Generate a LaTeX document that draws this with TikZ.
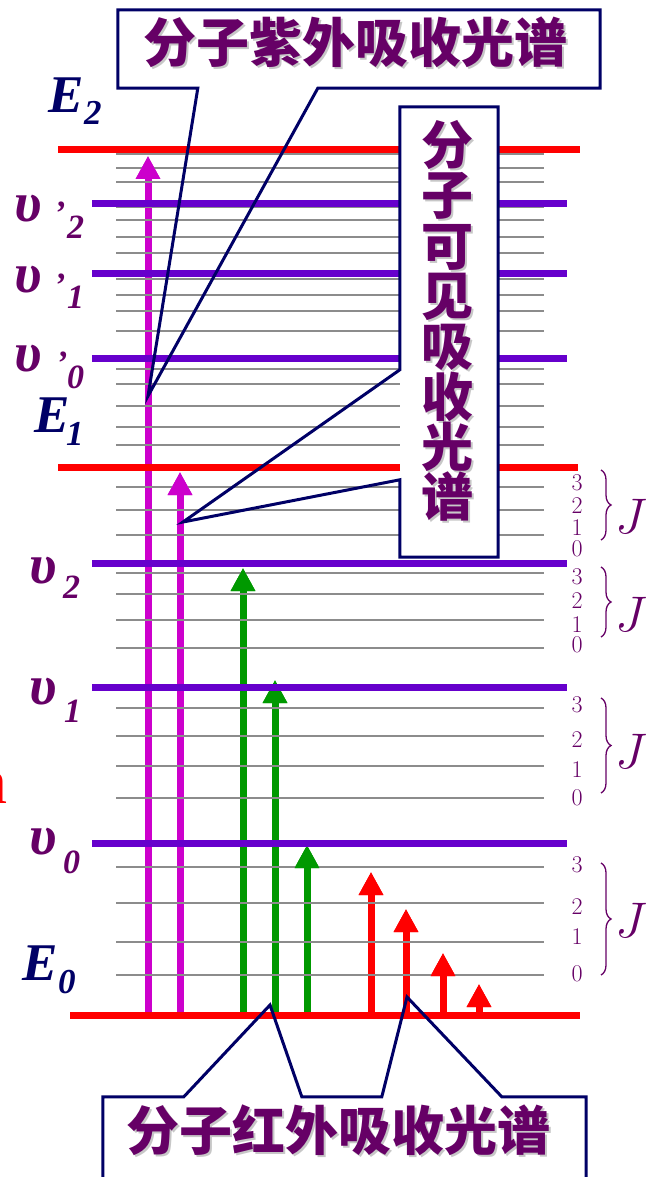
\RequirePackage{fix-cm}
\documentclass[tikz,border=0pt]{standalone}
\usepackage{fontspec}
\newfontfamily\cjk{Noto Sans CJK SC}
\newfontfamily\tnr{Liberation Serif}
\usetikzlibrary{arrows.meta,decorations.pathreplacing,calc}
\definecolor{lvred}{HTML}{FF0000}
\definecolor{lviolet}{HTML}{6600CC}
\definecolor{lgray}{HTML}{8C8C8C}
\definecolor{amag}{HTML}{CC00CC}
\definecolor{agreen}{HTML}{009900}
\definecolor{navy}{HTML}{000066}
\definecolor{tpurple}{HTML}{660066}
\newcommand\cjkfont{\cjk\bfseries\fontsize{53}{57}\selectfont}
\newcommand\cjkvfont{\cjk\bfseries\fontsize{52}{50.3}\selectfont}
\newcommand\ebig{\tnr\bfseries\itshape\fontsize{53}{53}\selectfont}
\newcommand\esub{\tnr\bfseries\itshape\fontsize{35}{35}\selectfont}
\newcommand\ubig{\tnr\bfseries\itshape\fontsize{56}{56}\selectfont}
\newcommand\usub{\tnr\bfseries\itshape\fontsize{34}{34}\selectfont}
\newcommand\jdig{\fontsize{24}{24}\selectfont}
\newcommand\jbig{\fontsize{50}{50}\selectfont}
\begin{document}
\begin{tikzpicture}[x=1pt,y=-1pt,
  elevel/.style={lvred,line width=7pt},
  vlevel/.style={lviolet,line width=7pt},
  rlevel/.style={lgray,line width=2pt},
  shaft/.style={line width=7pt,-{Triangle[width=23pt,length=23pt]}},
  cbox/.style={fill=white,draw=none,inner sep=0pt},
  cline/.style={navy,line width=3pt,line join=miter},
  cjktext/.style={text=tpurple,inner sep=0pt,font=\cjkfont},
  cjkshadow/.style={text=black!22,inner sep=0pt,font=\cjkfont},
  elab/.style={text=navy,inner sep=0pt,anchor=base west},
  ulab/.style={text=tpurple,inner sep=0pt,anchor=base west},
  jnum/.style={text=tpurple,inner sep=0pt,font=\jdig},
  jlet/.style={text=tpurple,inner sep=0pt,anchor=west,font=\jbig},
  jbrace/.style={tpurple,line width=1.3pt,decorate,decoration={brace,amplitude=10pt}}
]
\useasboundingbox (0,0) rectangle (648,1177);
\fill[white] (0,0) rectangle (648,1177);

% arrow coordinates
\coordinate (a1s) at (148,1012); \coordinate (a1t) at (148,156);
\coordinate (a2s) at (180,1012); \coordinate (a2t) at (180,472);
\coordinate (g1s) at (243,1012); \coordinate (g1t) at (243,568);
\coordinate (g2s) at (275,1012); \coordinate (g2t) at (275,680);
\coordinate (g3s) at (307,1012); \coordinate (g3t) at (307,845);
\coordinate (r1s) at (371,1012); \coordinate (r1t) at (371,872);
\coordinate (r2s) at (406,1012); \coordinate (r2t) at (406,909);
\coordinate (r3s) at (443,1012); \coordinate (r3t) at (443,953);
\coordinate (r4s) at (479,1012); \coordinate (r4t) at (479,984);

% arrows (first pass)
\foreach \s/\t/\c in {a1s/a1t/amag,a2s/a2t/amag,g1s/g1t/agreen,g2s/g2t/agreen,g3s/g3t/agreen,r1s/r1t/lvred,r2s/r2t/lvred,r3s/r3t/lvred,r4s/r4t/lvred}
  \draw[shaft,\c] (\s) -- (\t);

% rotational levels
\foreach \y in {154,168,182,207,220,237,253,279,295,311,331,369,384,406,427,445,487,510,535,573,594,620,648,708,736,766,798,867,903,942,975}
  \draw[rlevel] (116,\y) -- (544,\y);

% arrow heads on top of rotational levels
\foreach \t/\c in {a1t/amag,a2t/amag,g1t/agreen,g2t/agreen,g3t/agreen,r1t/lvred,r2t/lvred,r3t/lvred,r4t/lvred}
  \draw[shaft,\c] ($(\t)+(0,25)$) -- (\t);

% vibrational levels
\foreach \y in {203,273,358,563,687,843}
  \draw[vlevel] (92,\y) -- (567,\y);

% electronic levels
\draw[elevel] (58,150) -- (580,150);
\draw[elevel] (58,467) -- (578,467);
\draw[elevel] (70,1015) -- (580,1015);

% left labels
\node[elab,font=\ebig] (E2) at (48,113) {E};
\node[elab,font=\esub] (E2s) at (84,125) {2};
\node[elab,font=\ebig] (E1) at (34,432) {E};
\node[elab,font=\esub] (E1s) at (66,445) {1};
\node[elab,font=\ebig] (E0) at (22,980) {E};
\node[elab,font=\esub] (E0s) at (58,993) {0};

\node[ulab,font=\ubig] (vp2) at (14,221) {υ};
\node[ulab,font=\usub] (vp2p) at (54,224) {’};
\node[ulab,font=\usub] (vp2s) at (67,238) {2};
\node[ulab,font=\ubig] (vp1) at (14,292) {υ};
\node[ulab,font=\usub] (vp1p) at (54,296) {’};
\node[ulab,font=\usub] (vp1s) at (67,308) {1};
\node[ulab,font=\ubig] (vp0) at (14,371) {υ};
\node[ulab,font=\usub] (vp0p) at (56,374) {’};
\node[ulab,font=\usub] (vp0s) at (67,388) {0};
\node[ulab,font=\ubig] (v2) at (29,583) {υ};
\node[ulab,font=\usub] (v2s) at (63,598) {2};
\node[ulab,font=\ubig] (v1) at (29,704) {υ};
\node[ulab,font=\usub] (v1s) at (64,722) {1};
\node[ulab,font=\ubig] (v0) at (29,854) {υ};
\node[ulab,font=\usub] (v0s) at (63,873) {0};

% partial red letter at the left edge
\node[text=lvred,inner sep=0pt,anchor=base east,font=\tnr\fontsize{64}{64}\selectfont] (redn) at (8,803) {n};

% J labels
\foreach \n/\y in {3/483,2/506,1/528,0/549, 3/577,2/601,1/625,0/645, 3/705,2/740,1/770,0/798, 3/865,2/907,1/937,0/974}
  \node[jnum] at (577,\y) {\n};
\draw[jbrace] (601,470) -- (601,540);
\draw[jbrace] (601,567) -- (601,637);
\draw[jbrace] (601,698) -- (601,793);
\draw[jbrace] (601,863) -- (601,975);
\node[jlet] (J1) at (615,516) {$J$};
\node[jlet] (J2) at (615,614) {$J$};
\node[jlet] (J3) at (615,751) {$J$};
\node[jlet] (J4) at (615,920) {$J$};

% callout: UV
\node[cbox,minimum width=482pt,minimum height=78pt] (uvbox) at (359,49) {};
\coordinate (uvtip) at (148,396);
\draw[cline] (uvbox.south west) -- (uvbox.north west) -- (uvbox.north east) -- (uvbox.south east)
  -- ($(uvbox.south west)+(200,0)$) -- (uvtip) -- ($(uvbox.south west)+(80,0)$) -- cycle;
\node[cjkshadow] at (357,44) {分子紫外吸收光谱};
\node[cjktext] (uvtext) at (355,42) {分子紫外吸收光谱};

% callout: visible
\node[cbox,minimum width=98pt,minimum height=450pt] (visbox) at (449,332) {};
\coordinate (vistip) at (183,522);
\draw[cline] ($(visbox.north west)+(0,373)$) -- (visbox.south west) -- (visbox.south east) -- (visbox.north east)
  -- (visbox.north west) -- ($(visbox.north west)+(0,263)$) -- (vistip) -- cycle;
\node[cjkshadow,align=center,font=\cjkvfont] at (449,323) {分\\子\\可\\见\\吸\\收\\光\\谱};
\node[cjktext,align=center,font=\cjkvfont] (vistext) at (447,321) {分\\子\\可\\见\\吸\\收\\光\\谱};

% callout: IR
\node[cbox,minimum width=483pt,minimum height=106pt] (irbox) at (344.5,1150) {};
\coordinate (irtip1) at (270,1005);
\coordinate (irtip2) at (407,997);
\draw[cline] (irbox.south west) -- (irbox.north west) -- ($(irbox.north west)+(81,0)$) -- (irtip1)
  -- ($(irbox.north west)+(199,0)$) -- ($(irbox.north west)+(279,0)$) -- (irtip2)
  -- ($(irbox.north west)+(399,0)$) -- (irbox.north east) -- (irbox.south east);
\node[cjkshadow] at (340,1132) {分子红外吸收光谱};
\node[cjktext] (irtext) at (338,1130) {分子红外吸收光谱};
\end{tikzpicture}
\end{document}
